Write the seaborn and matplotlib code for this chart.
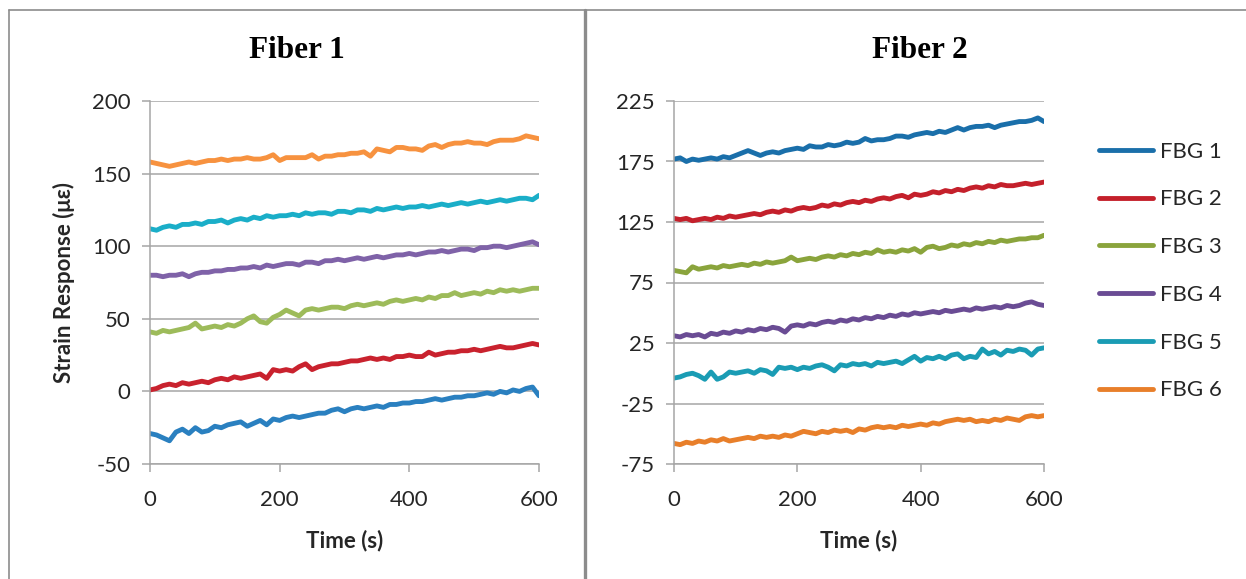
import matplotlib
matplotlib.use("Agg")
import matplotlib.pyplot as plt
import seaborn as sns
import pandas as pd
from matplotlib.lines import Line2D

# ---------------- data ----------------
time_s = list(range(0, 601, 10))
series_names = ["FBG 1", "FBG 2", "FBG 3", "FBG 4", "FBG 5", "FBG 6"]

f1_fbg1 = [-29, -30, -32, -34, -28, -26, -29, -25, -28, -27, -24, -25, -23, -22, -21, -24, -22, -20, -23, -19,
           -20, -18, -17, -18, -17, -16, -15, -15, -13, -12, -14, -12, -11, -12, -11, -10, -11, -9, -9, -8,
           -8, -7, -7, -6, -5, -6, -5, -4, -4, -3, -3, -2, -1, -2, 0, -1, 1, 0, 2, 3, -3]
f1_fbg2 = [1, 2, 4, 5, 4, 6, 5, 6, 7, 6, 8, 9, 8, 10, 9, 10, 11, 12, 9, 15,
           14, 15, 14, 17, 19, 15, 17, 18, 19, 19, 20, 21, 21, 22, 23, 22, 23, 22, 24, 24,
           25, 24, 24, 27, 25, 26, 27, 27, 28, 28, 29, 28, 29, 30, 31, 30, 30, 31, 32, 33, 32]
f1_fbg3 = [41, 40, 42, 41, 42, 43, 44, 47, 43, 44, 45, 44, 46, 45, 47, 50, 52, 48, 47, 51,
           53, 56, 54, 52, 56, 57, 56, 57, 58, 58, 57, 59, 60, 59, 60, 61, 60, 62, 63, 62,
           63, 64, 63, 65, 64, 66, 66, 68, 66, 67, 68, 67, 69, 68, 70, 69, 70, 69, 70, 71, 71]
f1_fbg4 = [80, 80, 79, 80, 80, 81, 79, 81, 82, 82, 83, 83, 84, 84, 85, 85, 86, 85, 87, 86,
           87, 88, 88, 87, 89, 89, 88, 90, 90, 91, 90, 91, 92, 91, 92, 93, 92, 93, 94, 94,
           95, 94, 95, 96, 96, 97, 96, 97, 98, 98, 97, 99, 99, 100, 100, 99, 100, 101, 102, 103, 101]
f1_fbg5 = [112, 111, 113, 114, 113, 115, 115, 116, 115, 117, 117, 118, 116, 118, 119, 118, 120, 119, 121, 120,
           121, 121, 122, 121, 123, 122, 123, 123, 122, 124, 124, 123, 125, 125, 124, 126, 125, 126, 127, 126,
           127, 127, 128, 127, 128, 129, 128, 129, 130, 129, 130, 131, 130, 131, 132, 131, 132, 133, 133, 132, 135]
f1_fbg6 = [158, 157, 156, 155, 156, 157, 158, 157, 158, 159, 159, 160, 159, 160, 160, 161, 160, 160, 161, 163,
           159, 161, 161, 161, 161, 163, 160, 162, 162, 163, 163, 164, 164, 165, 162, 167, 166, 165, 168, 168,
           167, 167, 166, 169, 170, 168, 170, 171, 171, 172, 171, 171, 170, 172, 173, 173, 173, 174, 176, 175, 174]

f2_fbg1 = [177, 178, 175, 177, 176, 177, 178, 177, 179, 178, 180, 182, 184, 182, 180, 182, 183, 182, 184, 185,
           186, 185, 188, 187, 187, 189, 188, 189, 191, 190, 191, 194, 192, 193, 193, 194, 196, 196, 195, 197,
           198, 199, 198, 200, 199, 201, 203, 201, 203, 204, 204, 205, 203, 205, 206, 207, 208, 208, 209, 211, 208]
f2_fbg2 = [128, 127, 128, 126, 127, 128, 127, 129, 128, 130, 129, 130, 131, 132, 131, 133, 134, 133, 135, 134,
           136, 137, 136, 137, 139, 138, 140, 139, 141, 142, 141, 143, 142, 144, 145, 144, 146, 147, 145, 148,
           147, 148, 150, 149, 151, 150, 152, 151, 153, 154, 153, 155, 154, 156, 155, 155, 156, 157, 156, 157, 158]
f2_fbg3 = [85, 84, 83, 88, 86, 87, 88, 87, 89, 88, 89, 90, 89, 91, 90, 92, 91, 92, 93, 96,
           93, 94, 95, 94, 96, 97, 96, 98, 97, 99, 98, 100, 99, 102, 100, 101, 100, 102, 101, 103,
           100, 104, 105, 103, 104, 106, 105, 107, 106, 108, 107, 109, 108, 110, 109, 110, 111, 111, 112, 112, 114]
f2_fbg4 = [31, 30, 32, 31, 32, 30, 33, 32, 34, 33, 35, 34, 36, 35, 37, 36, 38, 37, 34, 39,
           40, 39, 41, 40, 42, 43, 42, 44, 43, 45, 44, 46, 45, 47, 46, 48, 47, 49, 48, 50,
           49, 50, 51, 50, 52, 51, 52, 53, 52, 54, 53, 54, 55, 54, 56, 55, 56, 58, 59, 57, 56]
f2_fbg5 = [-4, -3, -1, 0, -2, -5, 1, -5, -3, 1, 0, 1, 2, 0, 3, 2, -1, 5, 4, 5,
           3, 5, 4, 6, 7, 5, 2, 7, 6, 8, 7, 8, 6, 9, 8, 9, 10, 8, 11, 14,
           10, 13, 12, 14, 12, 15, 16, 12, 14, 13, 20, 16, 18, 15, 19, 18, 20, 19, 15, 20, 21]
f2_fbg6 = [-58, -59, -57, -58, -56, -57, -55, -56, -54, -56, -55, -54, -53, -54, -52, -53, -52, -53, -51, -52,
           -50, -48, -49, -50, -48, -49, -47, -48, -47, -49, -46, -47, -45, -44, -45, -44, -45, -43, -44, -43,
           -42, -43, -41, -42, -40, -39, -38, -39, -38, -40, -39, -40, -38, -39, -37, -38, -39, -36, -35, -36, -35]

fiber1 = [f1_fbg1, f1_fbg2, f1_fbg3, f1_fbg4, f1_fbg5, f1_fbg6]
fiber2 = [f2_fbg1, f2_fbg2, f2_fbg3, f2_fbg4, f2_fbg5, f2_fbg6]

colors_f1 = ["#2a80c0", "#c9222e", "#9dbb5a", "#7f62a8", "#1aaec8", "#f7923f"]
colors_f2 = ["#1a6faa", "#c4202b", "#8aa43c", "#6a4c94", "#1a9cb4", "#e87f2a"]


def long_df(series_list):
    rows = []
    for name, vals in zip(series_names, series_list):
        for t, v in zip(time_s, vals):
            rows.append({"Time": t, "Strain": v, "Sensor": name})
    return pd.DataFrame(rows)


df1 = long_df(fiber1)
df2 = long_df(fiber2)

# ---------------- style ----------------
sns.set_theme(style="white")
plt.rcParams["font.family"] = ["Lato", "DejaVu Sans"]
plt.rcParams["axes.unicode_minus"] = False

W, H = 1246, 579
fig = plt.figure(figsize=(W / 100, H / 100), dpi=100)
fig.patch.set_facecolor("white")

ax1 = fig.add_axes([150 / W, 1 - 464 / H, 389 / W, 363 / H])
ax2 = fig.add_axes([674 / W, 1 - 464 / H, 370 / W, 363 / H])

GRID = "#a6a6a6"
TXT = "#262626"
TICK_FS = 16
LW = 3.5

sns.lineplot(data=df1, x="Time", y="Strain", hue="Sensor", palette=colors_f1,
             linewidth=LW, ax=ax1, legend=False, estimator=None)
sns.lineplot(data=df2, x="Time", y="Strain", hue="Sensor", palette=colors_f2,
             linewidth=LW, ax=ax2, legend=False, estimator=None)

for ax, ylim, yt in [(ax1, (-50, 200), list(range(-50, 201, 50))),
                     (ax2, (-75, 225), list(range(-75, 226, 50)))]:
    ax.set_xlim(0, 600)
    ax.set_ylim(*ylim)
    ax.set_xticks([0, 200, 400, 600])
    ax.set_yticks(yt)
    ax.yaxis.grid(True, color=GRID, linewidth=1.1)
    ax.xaxis.grid(False)
    for s in ["top", "right"]:
        ax.spines[s].set_visible(False)
    for s in ["left", "bottom"]:
        ax.spines[s].set_color(GRID)
        ax.spines[s].set_linewidth(1.1)
    ax.tick_params(axis="x", direction="out", length=6, width=1.1, color=GRID,
                   labelsize=TICK_FS, labelcolor=TXT, pad=13, bottom=True)
    ax.tick_params(axis="y", direction="out", length=6, width=1.1, color=GRID,
                   labelsize=TICK_FS, labelcolor=TXT, pad=8, left=True)
    ax.set_xlabel("Time (s)", fontsize=TICK_FS, fontweight="bold", color=TXT, labelpad=14)
    ax.set_axisbelow(True)

ax1.set_ylabel("Strain Response (με)", fontsize=TICK_FS, fontweight="bold", color=TXT, labelpad=12)
ax2.set_ylabel("")

# Titles centred in each chart box
fig.text(297 / W, 1 - 50 / H, "Fiber 1", ha="center", va="center",
         fontsize=22.5, fontweight="bold", family="Liberation Serif", color="black")
fig.text(920 / W, 1 - 50 / H, "Fiber 2", ha="center", va="center",
         fontsize=22.5, fontweight="bold", family="Liberation Serif", color="black")

# Legend
handles = [Line2D([0], [0], color=c, linewidth=LW, solid_capstyle="round") for c in colors_f2]
leg = fig.legend(handles, series_names, loc="upper left",
                 bbox_to_anchor=(1083 / W, 1 - 126 / H), frameon=False,
                 fontsize=TICK_FS, handlelength=2.45, handletextpad=0.3,
                 labelspacing=1.25, borderpad=0.2)
for t in leg.get_texts():
    t.set_color(TXT)

# Chart frames (Excel style borders)
FR = "#8c8c8c"
fig.add_artist(Line2D([9 / W, 1.0], [1 - 10 / H, 1 - 10 / H], transform=fig.transFigure,
                      color=FR, linewidth=1.2))
fig.add_artist(Line2D([9 / W, 9 / W], [0, 1 - 10 / H], transform=fig.transFigure,
                      color=FR, linewidth=1.2))
fig.add_artist(Line2D([584.5 / W, 584.5 / W], [0, 1 - 10 / H], transform=fig.transFigure,
                      color=FR, linewidth=2.4))

fig.savefig("out.png", dpi=100, facecolor="white")
